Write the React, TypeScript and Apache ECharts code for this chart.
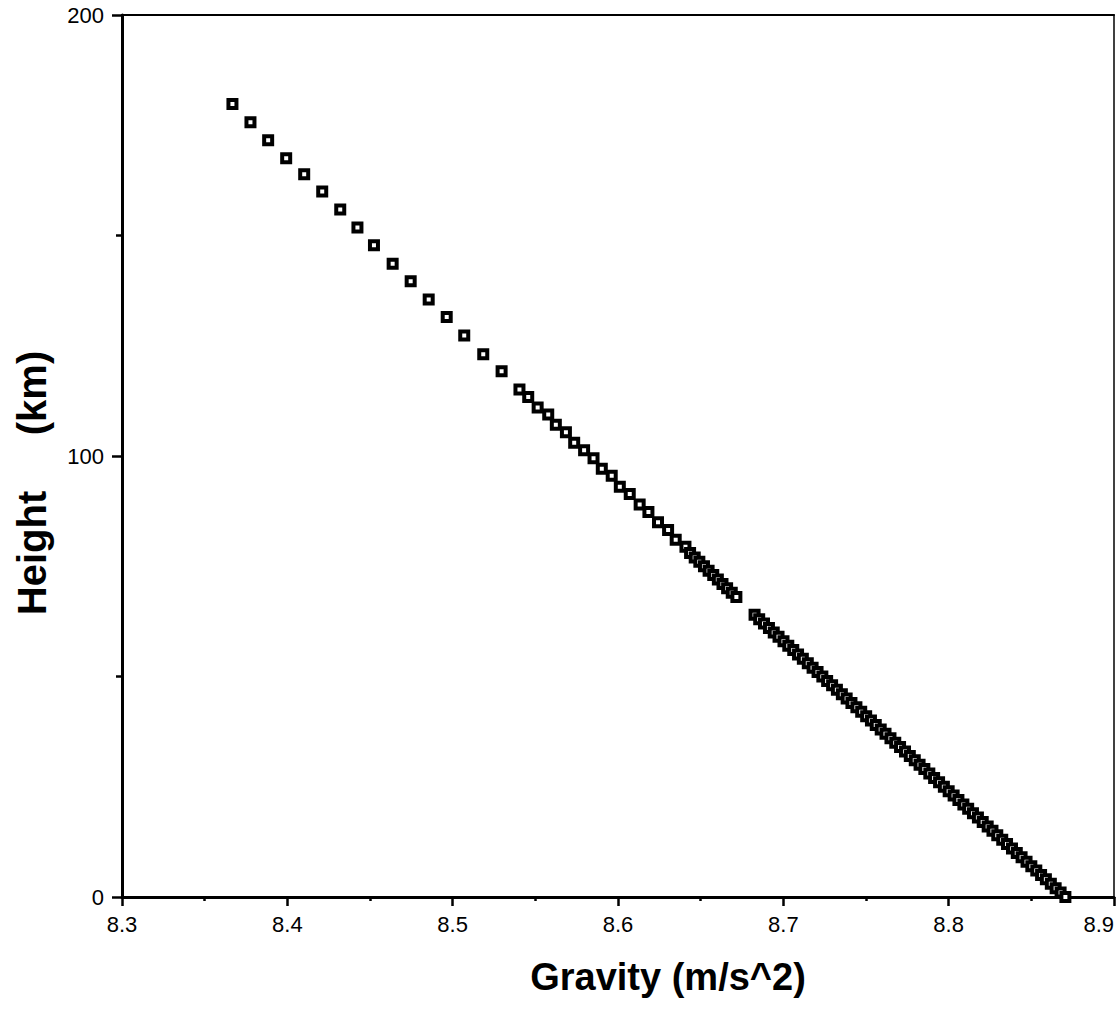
import React, { useEffect, useRef } from "react";
import * as echarts from "echarts";

// Upper, sparse points (about 4 km apart)
const upperHeights = [179.8, 175.7, 171.6, 167.5, 163.9, 160.0, 155.9, 151.8, 147.8, 143.6, 139.6, 135.5, 131.5, 127.3, 123.1, 119.2, 115.1];
const upperGravity = [8.3668, 8.3777, 8.3884, 8.3993, 8.4102, 8.4211, 8.4320, 8.4424, 8.4524, 8.4637, 8.4746, 8.4855, 8.4964, 8.5070, 8.5185, 8.5296, 8.5404];

// Middle points (about 2 km apart)
const middleHeights = [113.4, 111.0, 109.4, 107.1, 105.4, 103.0, 101.3, 99.5, 97.1, 95.5, 93.0, 91.4, 89.0, 87.3, 85.0, 83.2, 81.0, 79.4];
const middleGravity = [8.5457, 8.5514, 8.5578, 8.5624, 8.5685, 8.5735, 8.5795, 8.5852, 8.5902, 8.5962, 8.6011, 8.6071, 8.6131, 8.6184, 8.6242, 8.6303, 8.6349, 8.6408];

// Dense cluster 78 .. 68 km
const clusterHeights = [78, 77, 76, 75, 74, 73, 72, 71, 70, 69, 68];
const clusterGravity = [8.6436, 8.6464, 8.6492, 8.6520, 8.6548, 8.6576, 8.6604, 8.6632, 8.6660, 8.6688, 8.6716];

// Dense lower band 64 .. 0 km
const lowerHeights = [64, 63, 62, 61, 60, 59, 58, 57, 56, 55, 54, 53, 52, 51, 50, 49, 48, 47, 46, 45, 44, 43, 42, 41, 40, 39, 38, 37, 36, 35, 34, 33, 32, 31, 30, 29, 28, 27, 26, 25, 24, 23, 22, 21, 20, 19, 18, 17, 16, 15, 14, 13, 12, 11, 10, 9, 8, 7, 6, 5, 4, 3, 2, 1, 0];
const lowerGravity = [8.6826, 8.6854, 8.6883, 8.6913, 8.6942, 8.6971, 8.7001, 8.7030, 8.7060, 8.7089, 8.7118, 8.7148, 8.7177, 8.7207, 8.7236, 8.7265, 8.7295, 8.7324, 8.7354, 8.7383, 8.7412, 8.7442, 8.7471, 8.7501, 8.7530, 8.7559, 8.7589, 8.7618, 8.7648, 8.7677, 8.7706, 8.7736, 8.7765, 8.7795, 8.7824, 8.7853, 8.7883, 8.7912, 8.7942, 8.7971, 8.8000, 8.8030, 8.8059, 8.8089, 8.8118, 8.8147, 8.8177, 8.8206, 8.8236, 8.8265, 8.8294, 8.8324, 8.8353, 8.8383, 8.8412, 8.8441, 8.8471, 8.8500, 8.8530, 8.8559, 8.8588, 8.8618, 8.8647, 8.8677, 8.8706];

const xTitle = "Gravity (m/s^2)";
const yTitle = "Height     (km)";

const heights = [...upperHeights, ...middleHeights, ...clusterHeights, ...lowerHeights];
const gravity = [...upperGravity, ...middleGravity, ...clusterGravity, ...lowerGravity];

const FONT = "'Liberation Sans', Arial, Helvetica, sans-serif";

export default function App() {
  const ref = useRef<HTMLDivElement>(null);
  useEffect(() => {
    if (!ref.current) return;
    const chart = echarts.init(ref.current, null, { renderer: "svg" });
    const data = gravity.map((g, i) => [g, heights[i]]);
    chart.setOption({
      animation: false,
      backgroundColor: "#ffffff",
      grid: { left: 122, right: 2, top: 15, bottom: 115, containLabel: false },
      xAxis: [
        {
          type: "value",
          min: 8.3,
          max: 8.9,
          interval: 0.1,
          position: "bottom",
          axisLine: { show: true, onZero: false, lineStyle: { color: "#000", width: 3 } },
          axisTick: { show: true, inside: false, length: 9, lineStyle: { color: "#000", width: 2.5 } },
          minorTick: { show: true, splitNumber: 2, length: 4, lineStyle: { color: "#000", width: 2.5 } },
          splitLine: { show: false },
          axisLabel: {
            color: "#000",
            fontFamily: FONT,
            fontSize: 22,
            margin: 16,
            alignMaxLabel: "right",
            formatter: (v: number) => v.toFixed(1),
          },
        },
        {
          type: "value",
          min: 8.3,
          max: 8.9,
          position: "top",
          axisLine: { show: true, onZero: false, lineStyle: { color: "#000", width: 2 } },
          axisTick: { show: false },
          axisLabel: { show: false },
          splitLine: { show: false },
        },
      ],
      yAxis: [
        {
          type: "value",
          min: 0,
          max: 200,
          interval: 100,
          position: "left",
          axisLine: { show: true, onZero: false, lineStyle: { color: "#000", width: 3 } },
          axisTick: { show: true, inside: false, length: 10, lineStyle: { color: "#000", width: 2.5 } },
          minorTick: { show: true, splitNumber: 2, length: 6, lineStyle: { color: "#000", width: 2.5 } },
          splitLine: { show: false },
          axisLabel: { color: "#000", fontFamily: FONT, fontSize: 22, margin: 18 },
        },
        {
          type: "value",
          min: 0,
          max: 200,
          position: "right",
          axisLine: { show: true, onZero: false, lineStyle: { color: "#000", width: 1.5 } },
          axisTick: { show: false },
          axisLabel: { show: false },
          splitLine: { show: false },
        },
      ],
      graphic: [
        {
          type: "text",
          x: 668,
          y: 977,
          style: {
            text: xTitle,
            font: `bold 38px ${FONT}`,
            fill: "#000",
            textAlign: "center",
            textVerticalAlign: "middle",
          },
        },
        {
          type: "text",
          x: 32,
          y: 483,
          rotation: Math.PI / 2,
          style: {
            text: yTitle,
            font: `bold 40px ${FONT}`,
            fill: "#000",
            textAlign: "center",
            textVerticalAlign: "middle",
          },
        },
      ],
      series: [
        {
          type: "scatter",
          xAxisIndex: 0,
          yAxisIndex: 0,
          data,
          clip: false,
          symbol: "rect",
          symbolSize: 8,
          itemStyle: { color: "#ffffff", borderColor: "#000000", borderWidth: 4, opacity: 1 },
          emphasis: { disabled: true },
        },
      ],
    });
    return () => chart.dispose();
  }, []);
  return (
    <div
      ref={ref}
      style={{ position: "fixed", left: 0, top: 0, width: 1117, height: 1012, background: "#fff" }}
    />
  );
}
